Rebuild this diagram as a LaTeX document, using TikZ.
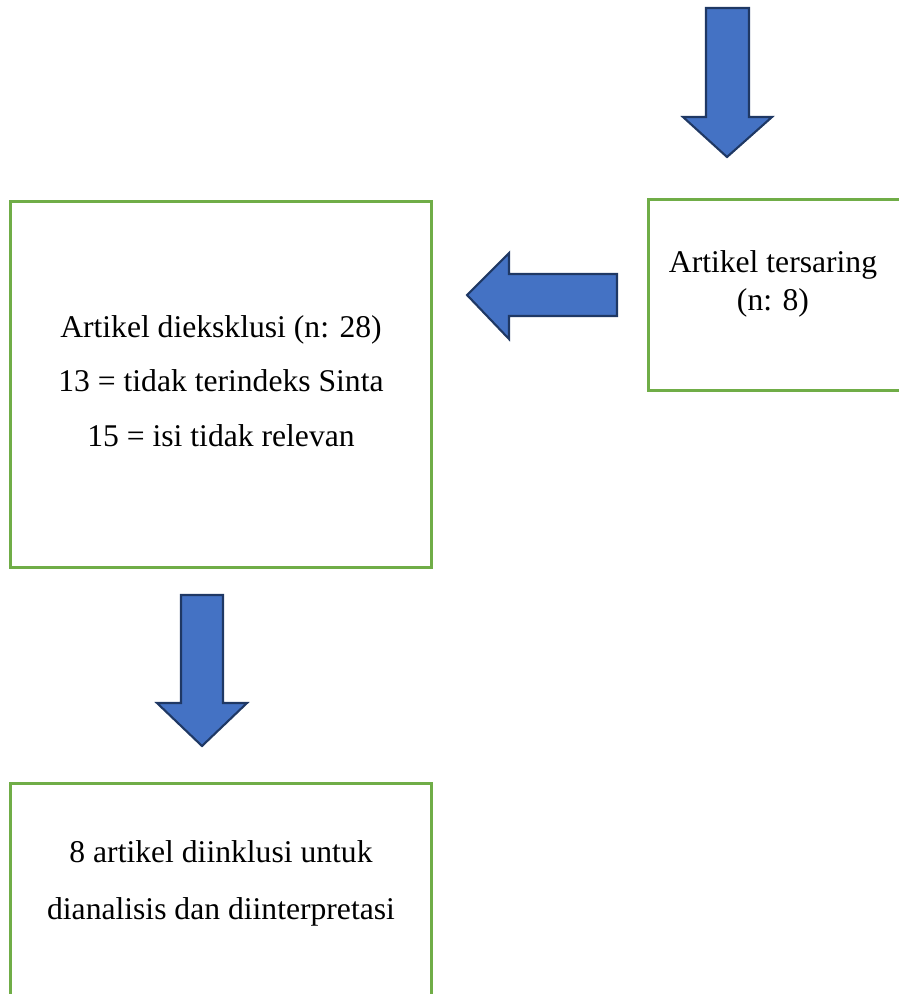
\documentclass[tikz,border=0pt]{standalone}
\usepackage{fontspec}
\setmainfont{Liberation Serif}
\definecolor{boxgreen}{HTML}{70AD47}
\definecolor{arrowblue}{HTML}{4472C4}
\definecolor{arrowedge}{HTML}{1F3864}
\begin{document}
\begin{tikzpicture}[x=0.02cm,y=-0.02cm,
	box/.style={draw=boxgreen,line width=1.7pt,rectangle,inner sep=0pt},
	label/.style={align=center,font=\fontsize{18}{18}\selectfont},
	blockarrow/.style={fill=arrowblue,draw=arrowedge,line width=1.2pt,line join=miter}]
		
		\useasboundingbox (0,0) rectangle (899,994);
		\clip (0,0) rectangle (899,994);
		
		\node(excl) at (221,384.5)[box,minimum width=8.44cm,minimum height=7.34cm]{};
		\node(screen) at (775,295)[box,minimum width=5.08cm,minimum height=3.84cm]{};
		\node(incl) at (221,900)[box,minimum width=8.44cm,minimum height=4.66cm]{};
		
		\node(excltxt) at (221,381)[label]{Artikel dieksklusi (n: 28)\\[13pt] 13 = tidak terindeks Sinta\\[13pt] 15 = isi tidak relevan};
		\node(screentxt) at (773,284)[label]{Artikel tersaring\\[3.5pt] (n: 8)};
		\node(incltxt) at (221,883.5)[label]{8 artikel diinklusi untuk\\[14.5pt] dianalisis dan diinterpretasi};
		
			\draw[blockarrow] (706,8) -- (749,8) -- (749,117) -- (772,117) -- (727,157) -- (683,117) -- (706,117) -- cycle;
			\draw[blockarrow] (617,274) -- (617,316) -- (509,316) -- (509,339) -- (467,295) -- (509,253) -- (509,274) -- cycle;
			\draw[blockarrow] (181,595) -- (223,595) -- (223,703) -- (247,703) -- (202,746) -- (157,703) -- (181,703) -- cycle;
		
	\end{tikzpicture}
\end{document}
